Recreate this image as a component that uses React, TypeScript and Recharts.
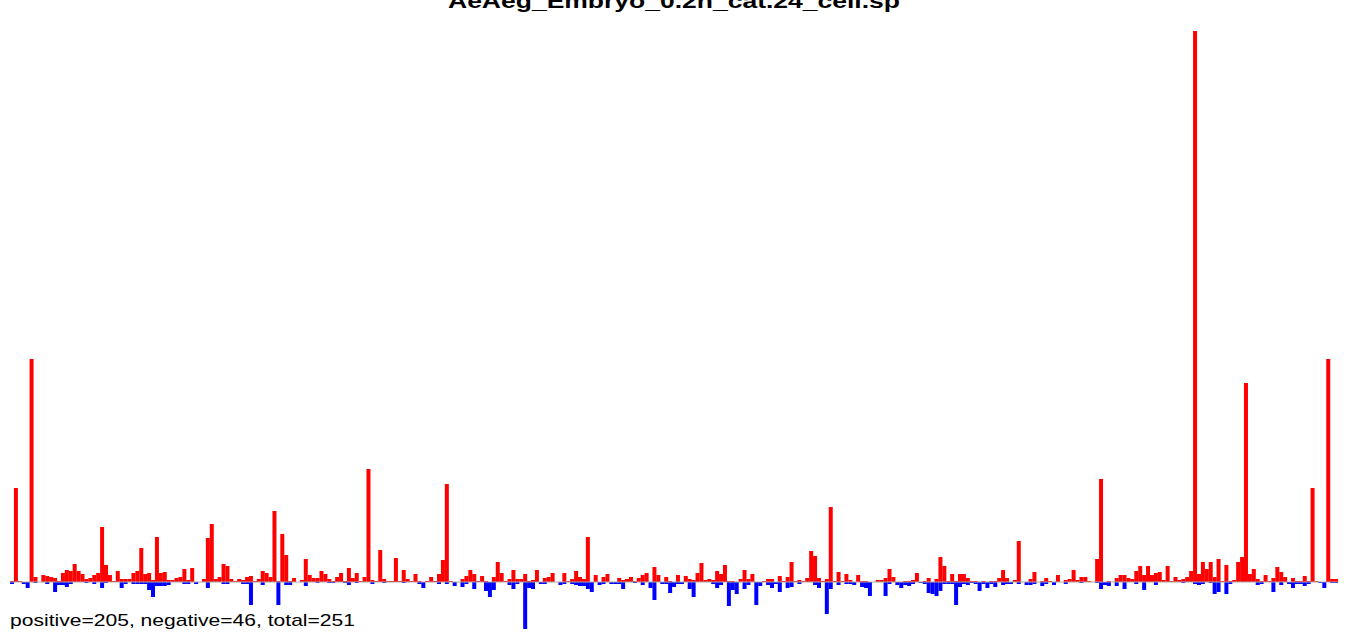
import React from 'react';
import { BarChart, Bar, XAxis, YAxis, ReferenceLine } from 'recharts';

const TITLE = 'AeAeg_Embryo_0.2h_cat.24_cell.sp';
const SUMMARY = 'positive=205, negative=46, total=251';

// heights above the baseline (red), one per position, left to right
const positive = [
  1, 94, 1, 0, 0, 223, 5, 0, 7, 6, 5, 4, 1, 9, 12, 11, 18, 11, 8, 3,
  4, 7, 9, 55, 17, 7, 1, 11, 3, 3, 3, 9, 11, 34, 8, 9, 2, 45, 9, 10,
  2, 2, 4, 5, 13, 2, 14, 0, 0, 3, 44, 58, 3, 5, 18, 16, 3, 1, 3, 2,
  5, 6, 1, 3, 11, 9, 5, 71, 1, 48, 27, 1, 4, 0, 2, 23, 7, 4, 4, 11,
  8, 3, 1, 5, 9, 1, 14, 4, 9, 1, 5, 113, 2, 1, 32, 3, 1, 1, 24, 1,
  12, 3, 1, 8, 1, 0, 1, 5, 1, 8, 22, 98, 1, 0, 0, 3, 6, 12, 8, 1,
  6, 1, 0, 5, 20, 9, 1, 3, 12, 3, 3, 8, 1, 2, 12, 0, 4, 5, 9, 0,
  0, 9, 1, 3, 11, 5, 3, 45, 0, 7, 0, 5, 8, 0, 0, 4, 2, 3, 5, 1,
  4, 7, 9, 0, 15, 7, 0, 5, 1, 0, 7, 0, 6, 3, 2, 9, 19, 2, 3, 2,
  11, 8, 17, 1, 1, 0, 3, 12, 3, 8, 0, 0, 1, 3, 3, 0, 6, 1, 5, 20,
  1, 2, 1, 4, 31, 26, 4, 1, 3, 75, 1, 10, 1, 8, 2, 0, 7, 1, 1, 0,
  0, 2, 2, 4, 13, 5, 0, 0, 1, 1, 2, 9, 0, 1, 4, 0, 3, 25, 16, 1,
  8, 1, 8, 8, 4, 1, 1, 0, 1, 0, 1, 1, 4, 12, 4, 0, 2, 41, 0, 0,
  3, 10, 0, 1, 4, 1, 0, 7, 0, 2, 3, 12, 2, 5, 5, 1, 0, 23, 103, 0,
  1, 0, 4, 7, 7, 4, 3, 11, 16, 7, 16, 7, 9, 10, 2, 16, 1, 5, 2, 3,
  5, 11, 551, 8, 20, 13, 20, 5, 23, 1, 17, 1, 2, 20, 25, 199, 8, 13, 3, 1,
  7, 1, 4, 15, 10, 5, 0, 4, 1, 1, 6, 1, 94, 1, 0, 0, 223, 3, 3,
];

// depths below the baseline (blue), same positions
const negativeDepth = [
  2, 0, 0, 2, 6, 0, 1, 0, 0, 2, 0, 10, 3, 3, 5, 2, 0, 0, 0, 1,
  0, 2, 0, 6, 1, 0, 0, 0, 6, 2, 0, 2, 2, 2, 2, 8, 15, 4, 4, 4,
  3, 0, 0, 0, 2, 2, 0, 2, 0, 0, 6, 0, 0, 0, 2, 2, 0, 0, 0, 2,
  2, 23, 0, 0, 3, 0, 0, 0, 23, 0, 3, 3, 0, 0, 0, 4, 0, 0, 1, 0,
  0, 1, 1, 0, 0, 1, 3, 0, 1, 0, 0, 0, 2, 0, 0, 1, 0, 0, 0, 0,
  1, 0, 0, 0, 2, 6, 0, 0, 0, 2, 0, 2, 0, 4, 0, 5, 2, 0, 7, 0,
  0, 9, 15, 8, 0, 0, 0, 3, 7, 2, 0, 47, 6, 7, 0, 2, 2, 0, 0, 0,
  3, 2, 0, 2, 3, 4, 4, 7, 10, 0, 3, 2, 0, 2, 2, 2, 7, 0, 0, 1,
  0, 3, 0, 6, 18, 0, 2, 2, 11, 5, 2, 2, 0, 7, 15, 0, 0, 0, 0, 2,
  6, 3, 0, 24, 8, 12, 0, 7, 3, 0, 23, 4, 0, 3, 6, 2, 10, 0, 6, 5,
  0, 2, 0, 0, 0, 3, 6, 0, 32, 7, 0, 3, 0, 2, 2, 3, 0, 5, 6, 14,
  0, 0, 0, 14, 2, 0, 3, 6, 3, 4, 2, 0, 1, 2, 11, 12, 14, 9, 2, 2,
  2, 23, 5, 2, 3, 1, 2, 9, 2, 6, 2, 5, 0, 3, 2, 2, 0, 2, 0, 3,
  3, 2, 0, 4, 2, 0, 3, 0, 0, 2, 0, 0, 0, 1, 0, 0, 0, 1, 7, 3,
  4, 0, 4, 0, 7, 0, 0, 2, 0, 8, 0, 0, 3, 0, 0, 0, 0, 0, 0, 1,
  0, 0, 2, 3, 2, 0, 1, 12, 10, 0, 12, 2, 0, 0, 0, 0, 0, 0, 3, 2,
  0, 0, 10, 0, 3, 0, 2, 6, 2, 2, 4, 2, 0, 0, 1, 6, 0, 1, 1,
];

const data = positive.map((p, i) => ({
  pos: i + 1,
  up: p,
  down: -(negativeDepth[i] || 0),
}));

export default function App() {
  return (
    <div style={{ position: 'relative', width: 1350, height: 638, background: '#fff' }}>
      <style>{'body{margin:0}'}</style>
      <BarChart
        width={1350}
        height={638}
        data={data}
        margin={{ top: 31, right: 12, bottom: 6, left: 10 }}
        barCategoryGap={0}
        barGap={0}
        stackOffset="sign"
      >
        <XAxis dataKey="pos" hide />
        <YAxis hide domain={[-50, 551]} allowDataOverflow />
        <Bar dataKey="up" stackId="s" fill="#ff0000" isAnimationActive={false} />
        <Bar dataKey="down" stackId="s" fill="#0000ff" isAnimationActive={false} />
        <ReferenceLine y={0} stroke="#aaaaaa" strokeWidth={1} />
      </BarChart>
      {/* title (clipped at the top edge, as in the source) and the count line */}
      <svg style={{ position: 'absolute', left: 0, top: 0 }} width={1350} height={638}>
        <text
          x={674}
          y={8}
          textAnchor="middle"
          fontFamily="'Liberation Sans', Arial, sans-serif"
          fontWeight="bold"
          fontSize={21}
          textLength={452}
          lengthAdjust="spacingAndGlyphs"
          fill="#000"
        >
          {TITLE}
        </text>
        <text
          x={10}
          y={626}
          fontFamily="'Liberation Sans', Arial, sans-serif"
          fontSize={17}
          textLength={345}
          lengthAdjust="spacingAndGlyphs"
          fill="#000"
        >
          {SUMMARY}
        </text>
      </svg>
    </div>
  );
}
